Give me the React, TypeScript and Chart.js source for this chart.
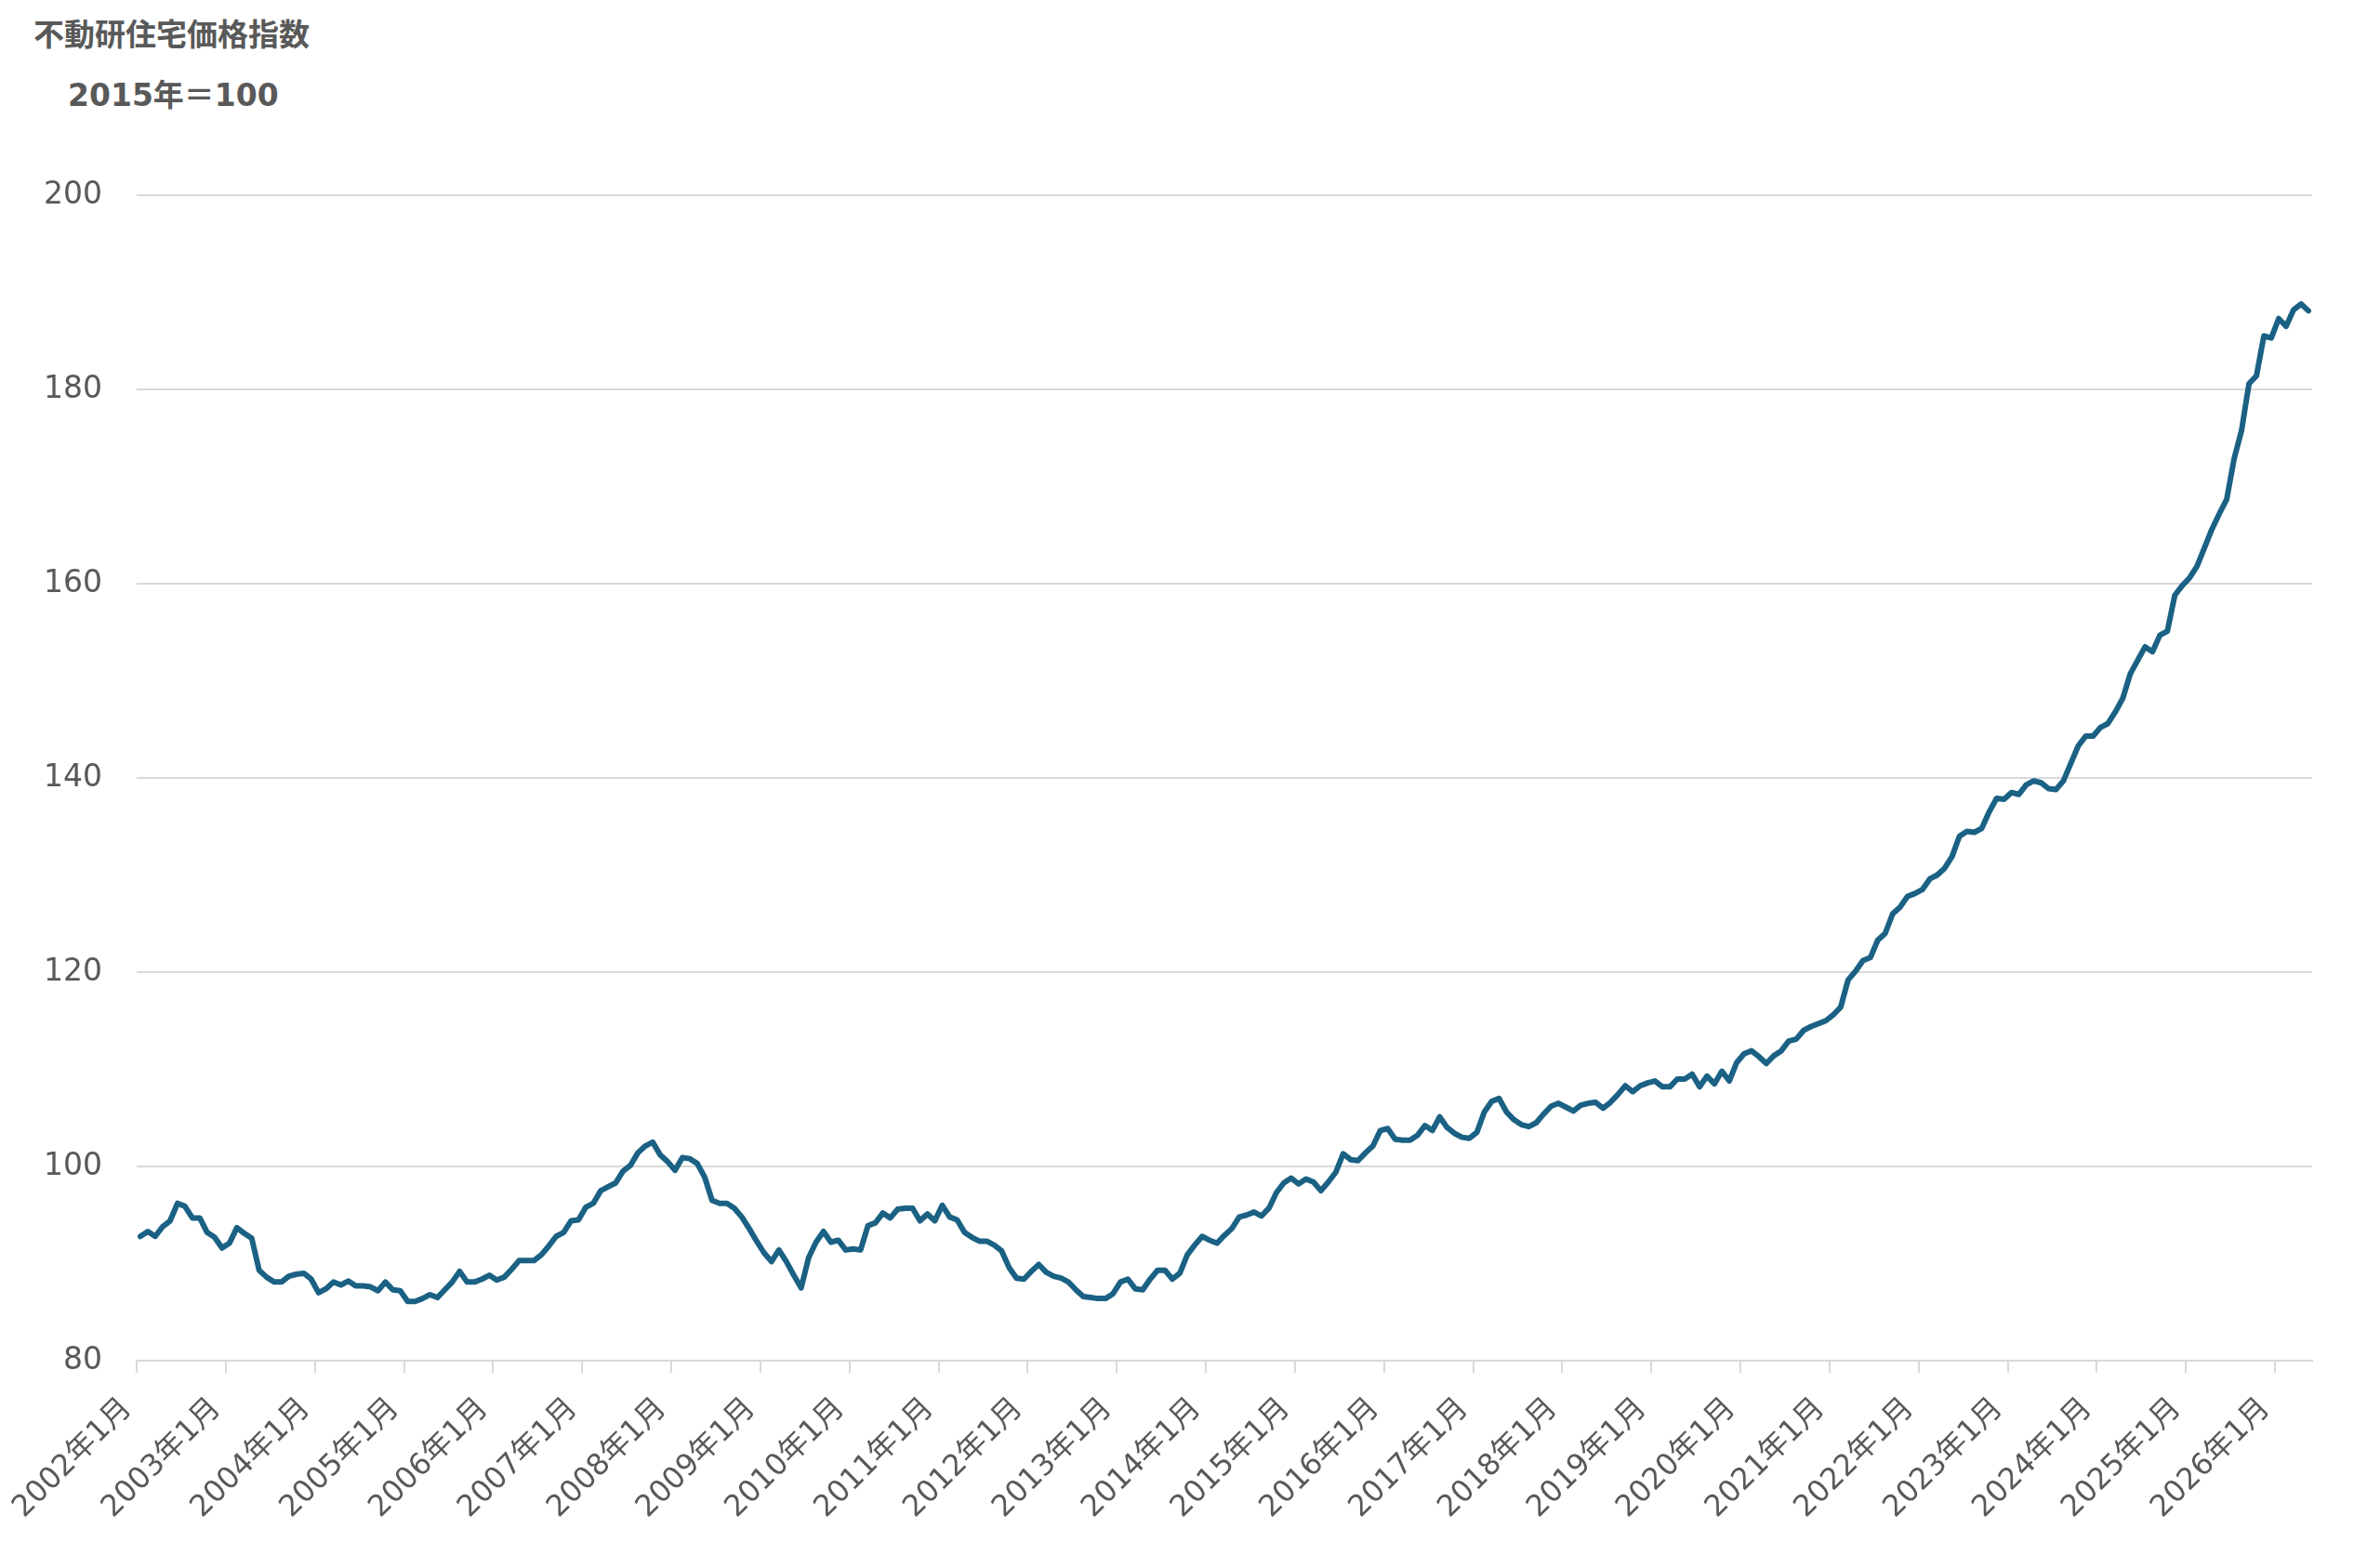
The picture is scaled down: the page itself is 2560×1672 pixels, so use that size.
import { useEffect, useRef } from "react";
import { Chart, registerables, type ChartItem } from "chart.js";

Chart.register(...registerables);

/* 不動研住宅価格指数 (2015年=100), 月次 2002年1月〜2026年5月 */
const START_YEAR = 2002;
const MONTH_COUNT = 293;

const INDEX_VALUES: number[] = [
  // 2002
  92.8, 93.3, 92.8, 93.8, 94.4, 96.2, 95.9, 94.7, 94.7, 93.2, 92.7, 91.6,
  // 2003
  92.1, 93.7, 93.1, 92.6, 89.3, 88.6, 88.1, 88.1, 88.7, 88.9, 89.0, 88.4,
  // 2004
  87.0, 87.4, 88.1, 87.8, 88.2, 87.7, 87.7, 87.6, 87.2, 88.1, 87.3, 87.2,
  // 2005
  86.1, 86.1, 86.4, 86.8, 86.5, 87.3, 88.1, 89.2, 88.1, 88.1, 88.4, 88.8,
  // 2006
  88.3, 88.6, 89.4, 90.3, 90.3, 90.3, 90.9, 91.8, 92.8, 93.2, 94.4, 94.5,
  // 2007
  95.8, 96.2, 97.5, 97.9, 98.3, 99.5, 100.1, 101.4, 102.1, 102.5, 101.2, 100.5,
  // 2008
  99.6, 100.9, 100.8, 100.3, 98.9, 96.5, 96.2, 96.2, 95.7, 94.8, 93.6, 92.3,
  // 2009
  91.1, 90.2, 91.4, 90.2, 88.8, 87.5, 90.6, 92.2, 93.3, 92.2, 92.4, 91.4,
  // 2010
  91.5, 91.4, 93.9, 94.2, 95.2, 94.7, 95.6, 95.7, 95.7, 94.4, 95.1, 94.4,
  // 2011
  96.0, 94.8, 94.5, 93.2, 92.7, 92.3, 92.3, 91.9, 91.3, 89.6, 88.5, 88.4,
  // 2012
  89.2, 89.9, 89.1, 88.7, 88.5, 88.1, 87.3, 86.6, 86.5, 86.4, 86.4, 86.9,
  // 2013
  88.1, 88.4, 87.4, 87.3, 88.4, 89.3, 89.3, 88.4, 89.0, 90.9, 91.9, 92.8,
  // 2014
  92.4, 92.1, 92.9, 93.6, 94.8, 95.0, 95.3, 94.9, 95.7, 97.3, 98.3, 98.8,
  // 2015
  98.2, 98.7, 98.4, 97.5, 98.4, 99.4, 101.3, 100.7, 100.6, 101.4, 102.1, 103.7,
  // 2016
  103.9, 102.8, 102.7, 102.7, 103.2, 104.2, 103.7, 105.1, 104.0, 103.4, 103.0, 102.9,
  // 2017
  103.5, 105.6, 106.7, 107.0, 105.6, 104.8, 104.3, 104.1, 104.5, 105.4, 106.2, 106.5,
  // 2018
  106.1, 105.7, 106.3, 106.5, 106.6, 106.0, 106.6, 107.4, 108.3, 107.7, 108.3, 108.6,
  // 2019
  108.8, 108.2, 108.2, 109.0, 109.0, 109.5, 108.2, 109.3, 108.5, 109.8, 108.8, 110.7,
  // 2020
  111.6, 111.9, 111.3, 110.6, 111.4, 111.9, 112.9, 113.1, 114.0, 114.4, 114.7, 115.0,
  // 2021
  115.6, 116.4, 119.2, 120.1, 121.2, 121.5, 123.3, 124.0, 126.0, 126.7, 127.8, 128.1,
  // 2022
  128.5, 129.6, 130.0, 130.7, 131.9, 134.0, 134.5, 134.4, 134.8, 136.5, 137.9, 137.8,
  // 2023
  138.5, 138.3, 139.3, 139.7, 139.5, 138.9, 138.8, 139.7, 141.5, 143.3, 144.3, 144.3,
  // 2024
  145.2, 145.6, 146.8, 148.2, 150.7, 152.1, 153.5, 153.0, 154.7, 155.1, 158.8, 159.8,
  // 2025
  160.6, 161.8, 163.7, 165.6, 167.2, 168.7, 172.9, 175.8, 180.6, 181.4, 185.5, 185.3,
  // 2026
  187.3, 186.5, 188.2, 188.8, 188.1,
];

const Y_MIN = 80;
const Y_MAX = 200;
const Y_STEP = 20;

const MONTH_LABELS: string[] = Array.from({ length: MONTH_COUNT }, (_, i) =>
  `${START_YEAR + Math.floor(i / 12)}年${(i % 12) + 1}月`
);

const TEXT_COLOR = "#595959";
const GRID_COLOR = "#d9d9d9";
const LINE_COLOR = "#1a6184";
const FONT = '"DejaVu Sans", "Noto Sans CJK JP", sans-serif';

export default function App() {
  const canvasRef = useRef<HTMLCanvasElement>(null);
  const chartRef = useRef<Chart | null>(null);

  useEffect(() => {
    if (!canvasRef.current) return;
    chartRef.current?.destroy();

    const ctx = canvasRef.current.getContext("2d") as ChartItem;

    chartRef.current = new Chart(ctx, {
      type: "line",
      data: {
        labels: MONTH_LABELS,
        datasets: [
          {
            label: "不動研住宅価格指数",
            data: INDEX_VALUES,
            borderColor: LINE_COLOR,
            borderWidth: 6,
            pointRadius: 0,
            tension: 0,
            borderJoinStyle: "round",
            borderCapStyle: "round",
            fill: false,
          },
        ],
      },
      options: {
        animation: false,
        responsive: true,
        maintainAspectRatio: false,
        layout: { padding: { top: 210, right: 73, bottom: 0, left: 0 } },
        plugins: {
          legend: { display: false },
          tooltip: { enabled: false },
        },
        scales: {
          x: {
            offset: true,
            afterFit: (scale) => {
              scale.height = 208;
            },
            grid: {
              offset: true,
              drawOnChartArea: false,
              drawTicks: true,
              tickLength: 13,
              lineWidth: 2,
              color: (c: any) =>
                typeof c.index === "number" && c.index % 12 === 0 ? GRID_COLOR : "rgba(0,0,0,0)",
            },
            border: { display: true, color: GRID_COLOR, width: 2 },
            ticks: {
              autoSkip: false,
              maxRotation: 45,
              minRotation: 45,
              padding: 20,
              labelOffset: -14,
              color: TEXT_COLOR,
              font: { family: FONT, size: 32 },
              callback: (_v, i) => (i % 12 === 0 ? MONTH_LABELS[i] : ""),
            },
          },
          y: {
            min: Y_MIN,
            max: Y_MAX,
            afterFit: (scale) => {
              scale.width = 147;
            },
            grid: { color: GRID_COLOR, lineWidth: 2, drawTicks: false },
            border: { display: false },
            ticks: {
              stepSize: Y_STEP,
              padding: 37,
              color: TEXT_COLOR,
              font: { family: FONT, size: 33 },
            },
          },
        },
      },
    });

    return () => {
      chartRef.current?.destroy();
      chartRef.current = null;
    };
  }, []);

  return (
    <div
      style={{
        position: "absolute",
        left: 0,
        top: 0,
        width: 2560,
        height: 1672,
        background: "#fff",
        overflow: "hidden",
      }}
    >
      {/* Title and base note */}
      <div
        style={{
          position: "absolute",
          left: 36,
          top: 19,
          fontFamily: '"Noto Sans CJK JP", sans-serif',
          fontWeight: 700,
          fontSize: 33,
          lineHeight: "33px",
          color: TEXT_COLOR,
          whiteSpace: "nowrap",
        }}
      >
        不動研住宅価格指数
      </div>
      <div
        style={{
          position: "absolute",
          left: 73,
          top: 86,
          fontFamily: FONT,
          fontWeight: 700,
          fontSize: 33,
          lineHeight: "33px",
          color: TEXT_COLOR,
          whiteSpace: "nowrap",
        }}
      >
        2015年＝100
      </div>

      <div style={{ position: "absolute", left: 0, top: 0, width: 2560, height: 1672 }}>
        <canvas ref={canvasRef} />
      </div>
    </div>
  );
}
